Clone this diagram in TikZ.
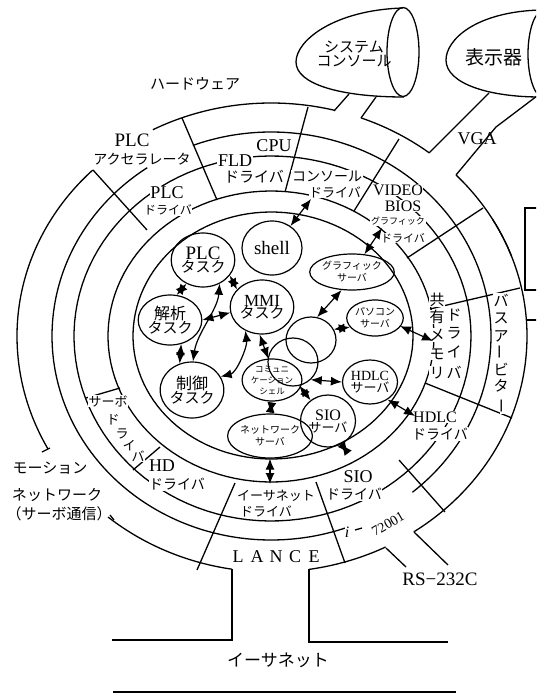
\documentclass[tikz,border=0pt]{standalone}
\usepackage{fontspec}
\setmainfont{Liberation Serif}
\newfontfamily\jp{Noto Sans CJK JP}
\usetikzlibrary{arrows.meta,shapes.geometric}
\newcommand\fsz[1]{\fontsize{#1}{#1}\selectfont}
\newcommand\ringseg[6]{\draw[ringline] plot[domain=#5:#6,samples=120] ({271+((cos(\x)>0)?#2:#1)*cos(\x)},{336+((sin(\x)>0)?#4:#3)*sin(\x)});}
\tikzset{
 ringline/.style={line width=1.3pt},
 lab/.style={fill=white, inner sep=0.6pt},
 task/.style={draw, ellipse, line width=1.2pt, inner sep=0pt, align=center},
 dar/.style={{Latex[length=11pt,width=9pt]}-{Latex[length=11pt,width=9pt]}, line width=1.2pt},
}
\begin{document}
\begin{tikzpicture}[x=1pt,y=-1pt]
\useasboundingbox (0,0) rectangle (536,695);
\begin{scope}
\clip (0,0) rectangle (536,695);
% ---- rings
\ringseg{254}{256}{233}{236}{-30}{56.1}
\ringseg{254}{256}{233}{236}{63.4}{81.5}
\ringseg{254}{256}{233}{236}{98.8}{129.9}
\ringseg{254}{256}{233}{236}{151.4}{225.4}
\ringseg{254}{256}{233}{236}{242.3}{284.3}
\ringseg{254}{256}{233}{236}{290.6}{308.2}
\ringseg{254}{256}{233}{236}{316.3}{340}
\ringseg{219}{220}{204}{204}{70}{235.6}
\ringseg{219}{220}{204}{204}{249.1}{410}
\ringseg{197}{200}{180}{185}{0}{360}
\ringseg{163}{163}{145}{146}{0}{360}
\ringseg{138}{142}{124}{123}{0}{360}
% ---- channels
\draw[ringline] (334,111) -- (349,94);
\draw[ringline] (361,118) -- (376,97);
\draw[ringline] (429,153) -- (489,93);
\draw[ringline] (456,175) -- (496,127) -- (537,96);
\draw[ringline] (526,320) -- (537,320);
\draw[ringline] (537,208) -- (525,208) -- (525,290) -- (537,290);
\draw[ringline] (414,532) -- (448,565);
\draw[ringline] (386,548) -- (406,567);
\draw[ringline] (309,569) -- (309,642) -- (448,642);
\draw[ringline] (232,569) -- (232,640) -- (112,640);
\draw[ringline] (113,692) -- (456,692);
\draw[ringline] (50,448) -- (42,452);
\draw[ringline] (110,515) -- (114,520);
% ---- radial dividers
\draw[ringline] (182,118)--(217,200);
\draw[ringline] (93,170)--(147,230);
\draw[ringline] (308,107)--(285,192);
\draw[ringline] (399,139)--(354,211);
\draw[ringline] (483,208)--(407,258);
\draw[ringline] (520,288)--(430,309);
\draw[ringline] (425,383)--(512,418);
\draw[ringline] (399,460)--(445,512);
\draw[ringline] (197,570)--(235,483);
\draw[ringline] (345,563)--(316,482);
\draw[ringline] (160,447)--(133,470);
\draw[ringline] (86,398)--(120,388);
% ---- console and display
\draw[ringline] (403,8) .. controls (335,10) and (296,40) .. (296,62) .. controls (296,84) and (340,97) .. (404,97);
\node[draw, ellipse, line width=1.3pt, minimum width=32pt, minimum height=89pt, inner sep=0pt] (con) at (403,52) {};
\draw[ringline] (540,10) .. controls (475,12) and (446,40) .. (446,60) .. controls (446,84) and (490,97) .. (540,97);
\node[draw, ellipse, line width=1.3pt, minimum width=32pt, minimum height=88pt, inner sep=0pt] (disp) at (544,54) {};
\node (conlab) at (354,56) {\jp\fsz{15}\begin{tabular}{@{}c@{}}システム\\[-2pt]コンソール\end{tabular}};
\node (displab) at (494,57) {\jp\fsz{19}表示器};
% ---- ring labels
\node (hw) at (195,84) {\jp\fsz{15}ハードウェア};
\node[lab] (plcaccA) at (132,140) {\fsz{19}PLC};
\node[lab] (plcaccB) at (142,159) {\jp\fsz{14}アクセラレータ};
\node[lab] (cpu) at (274,146) {\fsz{18}CPU};
\node[lab] (fldA) at (235,161) {\fsz{18}FLD};
\node[lab] (fldB) at (254,177) {\jp\fsz{15}ドライバ};
\node[lab] (plcdA) at (167,193) {\fsz{18}PLC};
\node[lab] (plcdB) at (168,210) {\jp\fsz{12}ドライバ};
\node[lab] (consA) at (327,176) {\jp\fsz{14}コンソール};
\node[lab] (consB) at (335,192) {\jp\fsz{13}ドライバ};
\node[lab] (vidA) at (398,190) {\fsz{16}VIDEO};
\node[lab] (vidB) at (403,206) {\fsz{16}BIOS};
\node[lab] (grA) at (398,221) {\jp\fsz{9}グラフィック};
\node[lab] (grB) at (403,238) {\jp\fsz{11}ドライバ};
\foreach \c/\yy in {共/300,有/317,メ/335,モ/354,リ/373} \node[lab] at (437,\yy) {\jp\fsz{15}\c};
\foreach \c/\yy in {ド/315,ラ/333,イ/352,バ/372} \node[lab] at (454,\yy) {\jp\fsz{15}\c};
\foreach \c/\yy in {バ/300,ス/318,ア/336,ビ/369,タ/386} \node[lab] at (501,\yy) {\jp\fsz{15}\c};
\node[lab,rotate=90] at (502,352) {\jp\fsz{15}ー};
\node[lab,rotate=90] at (504,406) {\jp\fsz{15}ー};
\node[lab] (hdlcdA) at (435,417) {\fsz{16}HDLC};
\node[lab] (hdlcdB) at (440,434) {\jp\fsz{14}ドライバ};
\node[lab] (siodA) at (358,477) {\fsz{18}SIO};
\node[lab] (siodB) at (354,494) {\jp\fsz{14}ドライバ};
\node[lab] (ethdA) at (276,496) {\jp\fsz{13}イーサネット};
\node[lab] (ethdB) at (266,511) {\jp\fsz{13}ドライバ};
\node[lab] (hdA) at (162,466) {\fsz{18}HD};
\node[lab] (hdB) at (177,484) {\jp\fsz{14}ドライバ};
\node[lab] (servoA) at (108,401) {\jp\fsz{13}サーボ};
\foreach \c/\xx/\yy in {ド/113/420,ラ/122/434,イ/129/446,バ/138/456} \node[lab] at (\xx,\yy) {\jp\fsz{13}\c};
\foreach \c/\xx in {L/238,A/257,N/276,C/295,E/314} \node at (\xx,557) {\fsz{18}\c};
\node[lab, inner sep=0pt] (ii) at (347,532) {\fsz{16}\itshape i};
\draw[ringline] (355,530) -- (362,528);
\node[rotate=30, inner sep=0pt] (chip) at (388,524) {\fsz{14}72001};
\node (rs) at (440,579) {\fsz{19}RS−232C};
\node (moA) at (50,468) {\jp\fsz{15}モーション};
\node (moB) at (57,495) {\jp\fsz{15}ネットワーク};
\node (moC) at (59,514) {\jp\fsz{15}（サーボ通信）};
\node (vga) at (477,139) {\fsz{18}VGA};
\node (eth) at (278,660) {\jp\fsz{17}イーサネット};
% ---- tasks
\node[task, minimum width=60pt, minimum height=54pt] (shell) at (272,248) {\fsz{19}shell};
\node[task, minimum width=60pt, minimum height=54pt] (plc) at (203,260) {\fsz{19}PLC\\[-1pt]\jp\fsz{15}タスク};
\node[task, minimum width=54pt, minimum height=54pt] (mmi) at (262,307) {\fsz{17}MMI\\[-1pt]\jp\fsz{15}タスク};
\node[task, minimum width=60pt, minimum height=50pt] (kai) at (170,320) {\jp\fsz{16}解析\\[-1pt]\jp\fsz{15}タスク};
\node[task, minimum width=58pt, minimum height=56pt] (sei) at (192,390) {\jp\fsz{16}制御\\[-1pt]\jp\fsz{15}タスク};
\node[task, minimum width=50pt, minimum height=42pt] (comm) at (272,380) {\jp\fsz{8.5}コミュニ\\[-1pt]\jp\fsz{8.5}ケーション\\[-1pt]\jp\fsz{8.5}シェル};
\node[task, minimum width=50pt, minimum height=44pt] (net) at (270,436) {\jp\fsz{10}ネットワーク\\\jp\fsz{10}サーバ};
\node[task, minimum width=50pt, minimum height=52pt] (sio) at (328,421) {\fsz{16}SIO\\\jp\fsz{13}サーバ};
\node[task, minimum width=48pt, minimum height=44pt] (hdlc) at (370,382) {\fsz{14}HDLC\\\jp\fsz{13}サーバ};
\node[task, minimum width=48pt, minimum height=36pt] (pc) at (375,318) {\jp\fsz{10}パソコン\\\jp\fsz{10}サーバ};
\node[task, minimum width=60pt, minimum height=36pt] (gs) at (352,272) {\jp\fsz{10}グラフィック\\\jp\fsz{10}サーバ};
\node[task, minimum width=50pt, minimum height=46pt] (circA) at (311,340) {};
\node[task, minimum width=50pt, minimum height=48pt] (circB) at (293,362) {};
% ---- driver end points
\coordinate (cdrv) at (311,199);
\coordinate (gdrv) at (382,228);
\coordinate (shm) at (433,341);
\coordinate (hdrv) at (415,416);
\coordinate (sdrv) at (348,453);
\coordinate (edrv) at (270,484);
% ---- arrows
\draw[dar] (shell.50) -- (cdrv);
\draw[dar] (gs.55) -- (gdrv);
\draw[dar] (gs.240) -- (circA.75);
\draw[dar] (pc.200) -- (circA.25);
\draw[dar] (400,326) -- (shm);
\draw[dar] (hdlc.west) -- (circB.-45);
\draw[dar] (hdlc.-45) -- (hdrv);
\draw[dar] (circB.-75) -- (sio.130);
\draw[dar] (sio.-60) -- (sdrv);
\draw[dar] (comm.south) -- (net.north);
\draw[dar] (net.south) -- (edrv);
\draw[dar] (mmi.-95) -- (comm.100);
\draw[dar] (sei.25) .. controls +(16,-4) and +(2,16) .. (mmi.235);
\draw[dar] (sei.88) .. controls +(4,-28) and +(-2,26) .. (plc.-55);
\draw[dar] (kai.east) -- (mmi.190);
\draw[dar] (kai.-65) -- (sei.115);
\draw[dar] (plc.235) -- (kai.75);
\draw[dar] (plc.-30) -- (mmi.145);
\end{scope}
\end{tikzpicture}
\end{document}
